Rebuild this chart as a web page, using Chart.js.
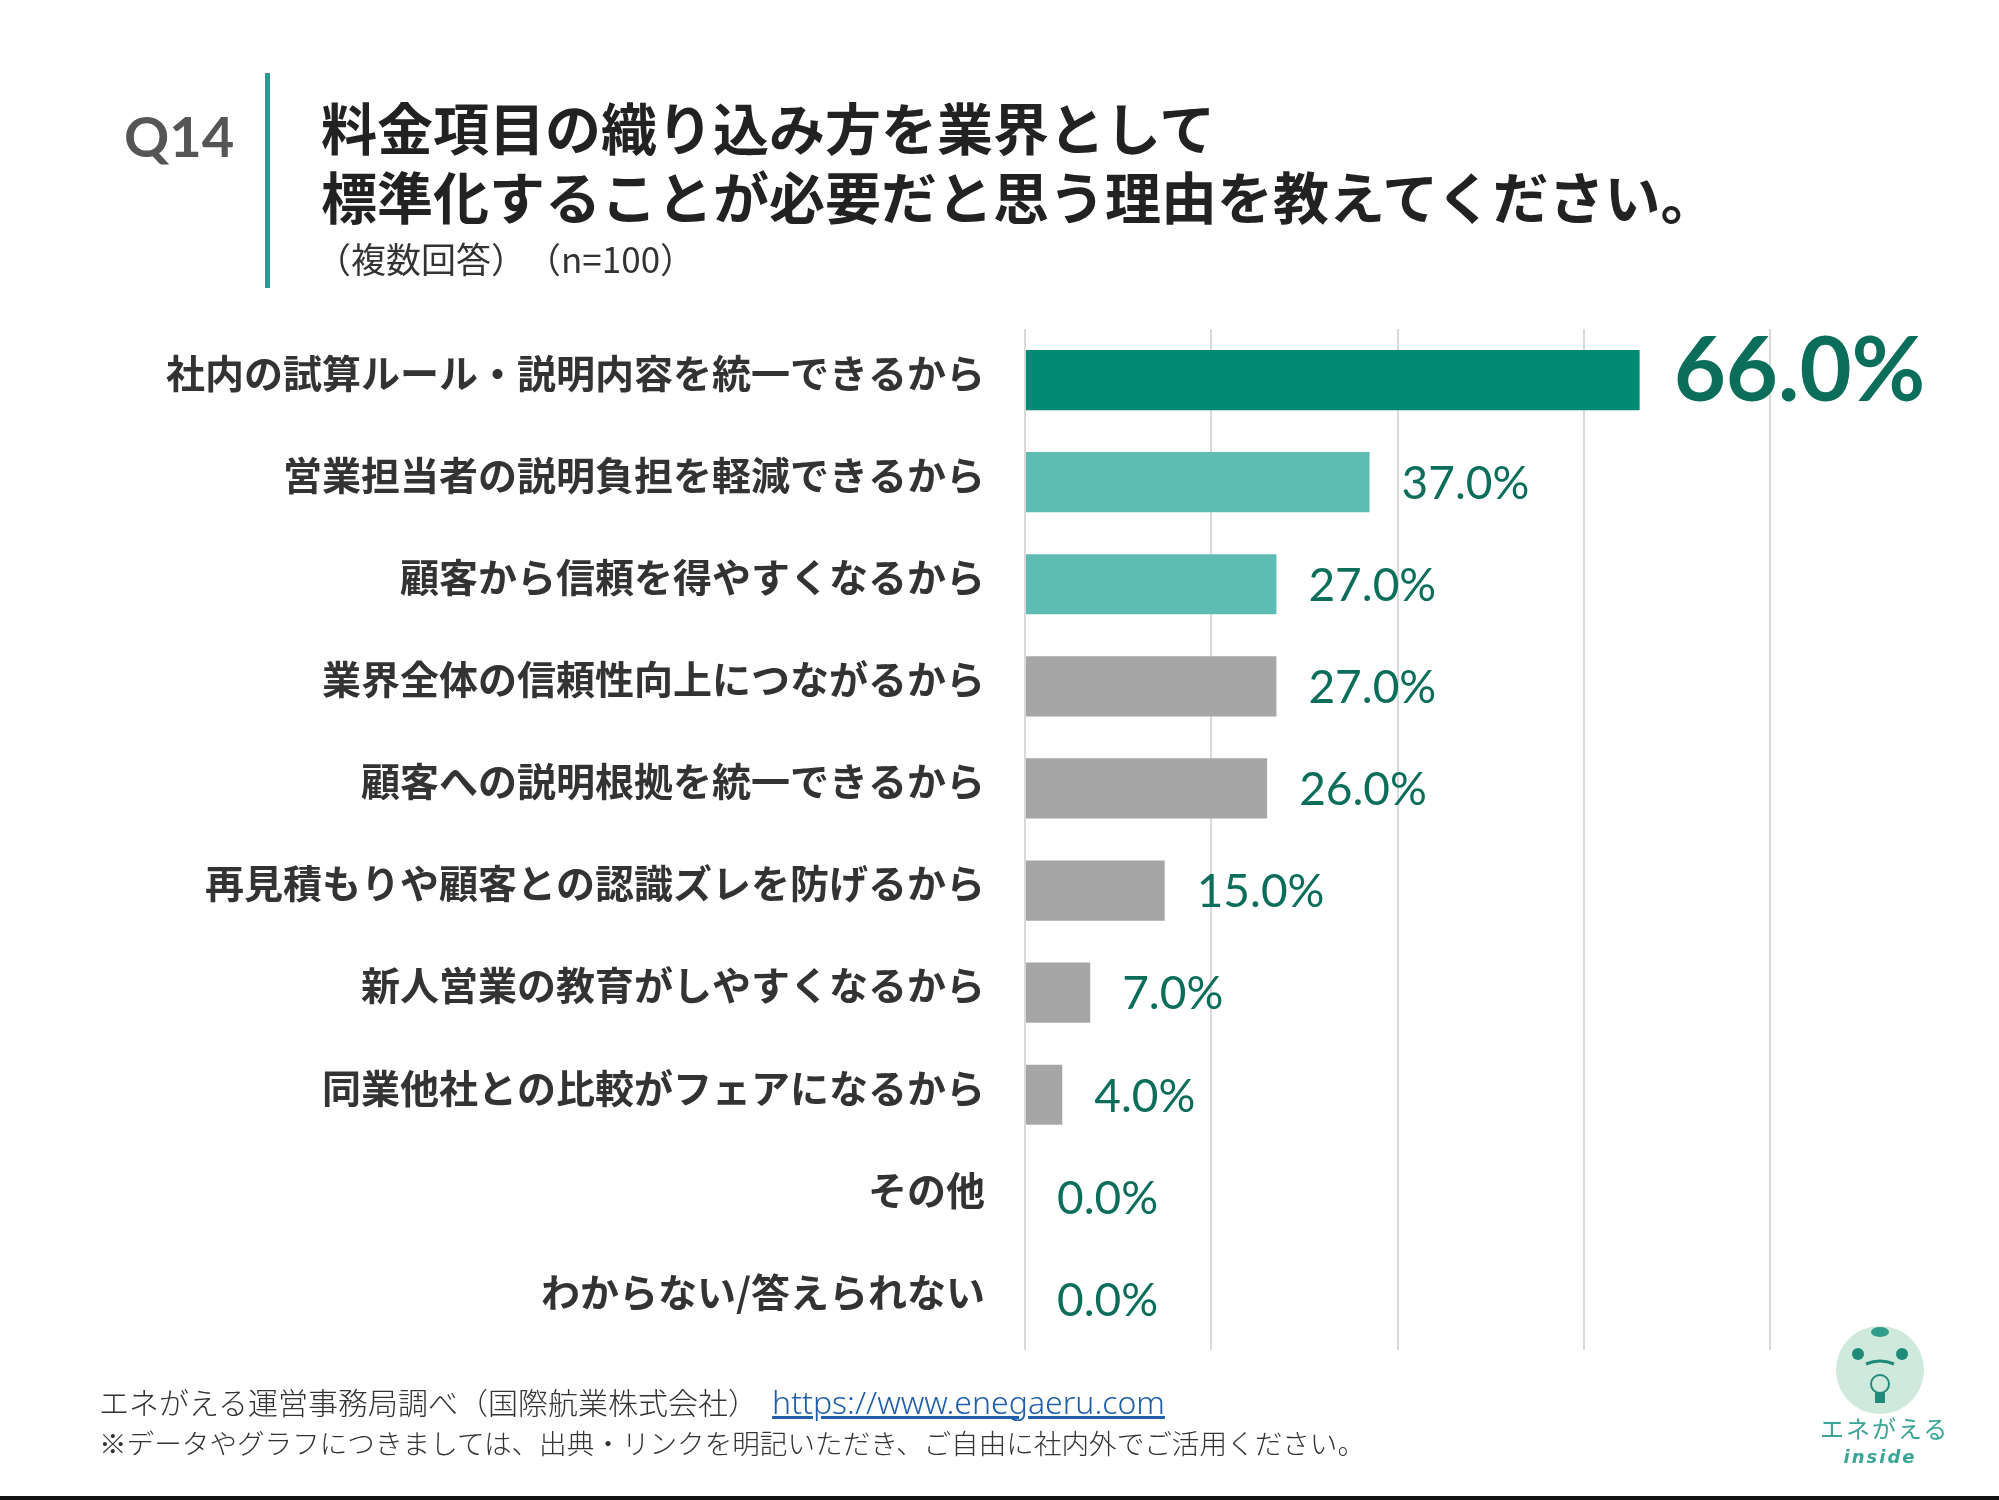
<!DOCTYPE html>
<html lang="ja">
<head>
<meta charset="utf-8">
<title>Q14</title>
<script src="https://cdn.jsdelivr.net/npm/chart.js@4.4.1/dist/chart.umd.min.js"></script>
<style>
    html, body {
        margin: 0;
        padding: 0;
        background: #fff;
    }
    #page {
        position: relative;
        width: 1999px;
        height: 1500px;
        overflow: hidden;
        font-family: 'Noto Sans CJK JP', sans-serif;
    }
    #chartBox {
        position: absolute;
        left: 0;
        top: 0;
        width: 1999px;
        height: 1500px;
    }
    .abs { position: absolute; white-space: nowrap; }
    .q { left: 124px; top: 101px; font-family: Lato, sans-serif; font-weight: 700; font-size: 56px; color: #555; line-height: 70px; }
    .bar-mark { left: 265px; top: 73px; width: 5px; height: 215px; background: #1aa296; }
    .title { left: 321px; font-weight: 700; font-size: 56px; color: #222; line-height: 70px; }
    .sub { left: 316px; top: 236px; font-size: 35px; color: #333; font-weight: 400; line-height: 44px; }
    .foot1 { left: 99px; top: 1381px; font-size: 30px; color: #333; line-height: 40px; font-weight: 300; }
    .foot1 a { color: #1f5faa; text-decoration: underline; margin-left: 14px; font-family: 'Noto Sans', sans-serif; font-size: 32px; }
    .foot2 { left: 99px; top: 1424px; font-size: 27.6px; color: #333; line-height: 36px; font-weight: 300; }
    .rule { left: 0; top: 1496px; width: 1999px; height: 4px; background: #111; }
    .logo { left: 1820px; top: 1322px; width: 120px; }
    .logo .t1 { position: absolute; left: 0; top: 88px; width: 120px; text-align: center; font-size: 24px; color: #3aa596; letter-spacing: 2px; }
    .logo .t2 { position: absolute; left: 0; top: 124px; width: 120px; text-align: center; font-family: 'DejaVu Sans', sans-serif; font-style: italic; font-weight: 700; font-size: 18px; color: #3aa596; letter-spacing: 2px; }
</style>
</head>
<body>
<div id="page">
    <div id="chartBox"><canvas id="answerChart" width="1999" height="1500"></canvas></div>

    <div class="abs q">Q14</div>
    <div class="abs bar-mark"></div>
    <div class="abs title" style="top: 91px;">料金項目の織り込み方を業界として</div>
    <div class="abs title" style="top: 160px;">標準化することが必要だと思う理由を教えてください。</div>
    <div class="abs sub">（複数回答）　（n=100）</div>

    <div class="abs foot1">エネがえる運営事務局調べ（国際航業株式会社）<a>https://www.enegaeru.com</a></div>
    <div class="abs foot2">※データやグラフにつきましては、出典・リンクを明記いただき、ご自由に社内外でご活用ください。</div>

    <div class="abs logo">
        <svg width="120" height="92" viewBox="0 0 120 92">
            <circle cx="60" cy="48" r="44" fill="#cfe9dd"/>
            <ellipse cx="60" cy="10" rx="9" ry="5" fill="#2f9c8c"/>
            <circle cx="38" cy="32" r="6" fill="#1f8c7b"/>
            <circle cx="82" cy="32" r="6" fill="#1f8c7b"/>
            <path d="M46 42 Q60 36 74 42" stroke="#1f8c7b" stroke-width="3" fill="none"/>
            <circle cx="60" cy="62" r="9" fill="none" stroke="#1f8c7b" stroke-width="2"/>
            <rect x="55" y="71" width="10" height="10" fill="#1f8c7b"/>
        </svg>
        <div class="t1">エネがえる</div>
        <div class="t2">inside</div>
    </div>

    <div class="abs rule"></div>
</div>

<script>
const categories = [
    '社内の試算ルール・説明内容を統一できるから',
    '営業担当者の説明負担を軽減できるから',
    '顧客から信頼を得やすくなるから',
    '業界全体の信頼性向上につながるから',
    '顧客への説明根拠を統一できるから',
    '再見積もりや顧客との認識ズレを防げるから',
    '新人営業の教育がしやすくなるから',
    '同業他社との比較がフェアになるから',
    'その他',
    'わからない/答えられない'
];
const values = [66.0, 37.0, 27.0, 27.0, 26.0, 15.0, 7.0, 4.0, 0.0, 0.0];
const xTicks = [0, 20, 40, 60, 80];

function barColor(i) {
    if (i === 0) return '#008a76';
    if (i < 3) return '#5dbdb2';
    return '#a6a6a6';
}

// value labels to the right of each bar
const valueLabels = {
    id: 'valueLabels',
    afterDatasetsDraw(chart) {
        const ctx = chart.ctx;
        const meta = chart.getDatasetMeta(0);
        ctx.save();
        ctx.fillStyle = '#0b6e5a';
        ctx.textAlign = 'left';
        ctx.textBaseline = 'middle';
        meta.data.forEach((bar, i) => {
            if (i === 0) {
                ctx.font = 'bold 90px Lato';
                ctx.fillText(values[i].toFixed(1) + '%', bar.x + 34, bar.y - 8);
            } else {
                ctx.font = '46px Lato';
                ctx.fillText(values[i].toFixed(1) + '%', bar.x + 32, bar.y + 2);
            }
        });
        ctx.restore();
    }
};

document.addEventListener('DOMContentLoaded', function() {
    const ctx = document.getElementById('answerChart').getContext('2d');

    new Chart(ctx, {
        type: 'bar',
        data: {
            labels: categories,
            datasets: [{
                data: values,
                backgroundColor: values.map((v, i) => barColor(i)),
                borderWidth: 0,
                barPercentage: 0.59,
                categoryPercentage: 1.0
            }]
        },
        options: {
            indexAxis: 'y',
            responsive: false,
            animation: false,
            layout: {
                padding: { top: 329, bottom: 150, left: 0, right: 229 }
            },
            plugins: {
                legend: { display: false },
                tooltip: { enabled: false },
                title: { display: false }
            },
            scales: {
                x: {
                    min: xTicks[0],
                    max: xTicks[xTicks.length - 1],
                    ticks: { display: false, stepSize: xTicks[1] - xTicks[0] },
                    grid: { color: '#d9d9d9', lineWidth: 2, drawTicks: false },
                    border: { display: false },
                    afterFit: scale => { scale.height = 0; }
                },
                y: {
                    grid: { display: false, drawTicks: false },
                    border: { display: false },
                    ticks: {
                        color: '#333',
                        padding: 40,
                        labelOffset: -7,
                        font: { family: "'Noto Sans CJK JP'", size: 39, weight: 'bold' }
                    },
                    afterFit: scale => { scale.width = 1025; }
                }
            }
        },
        plugins: [valueLabels]
    });
});
</script>
</body>
</html>
